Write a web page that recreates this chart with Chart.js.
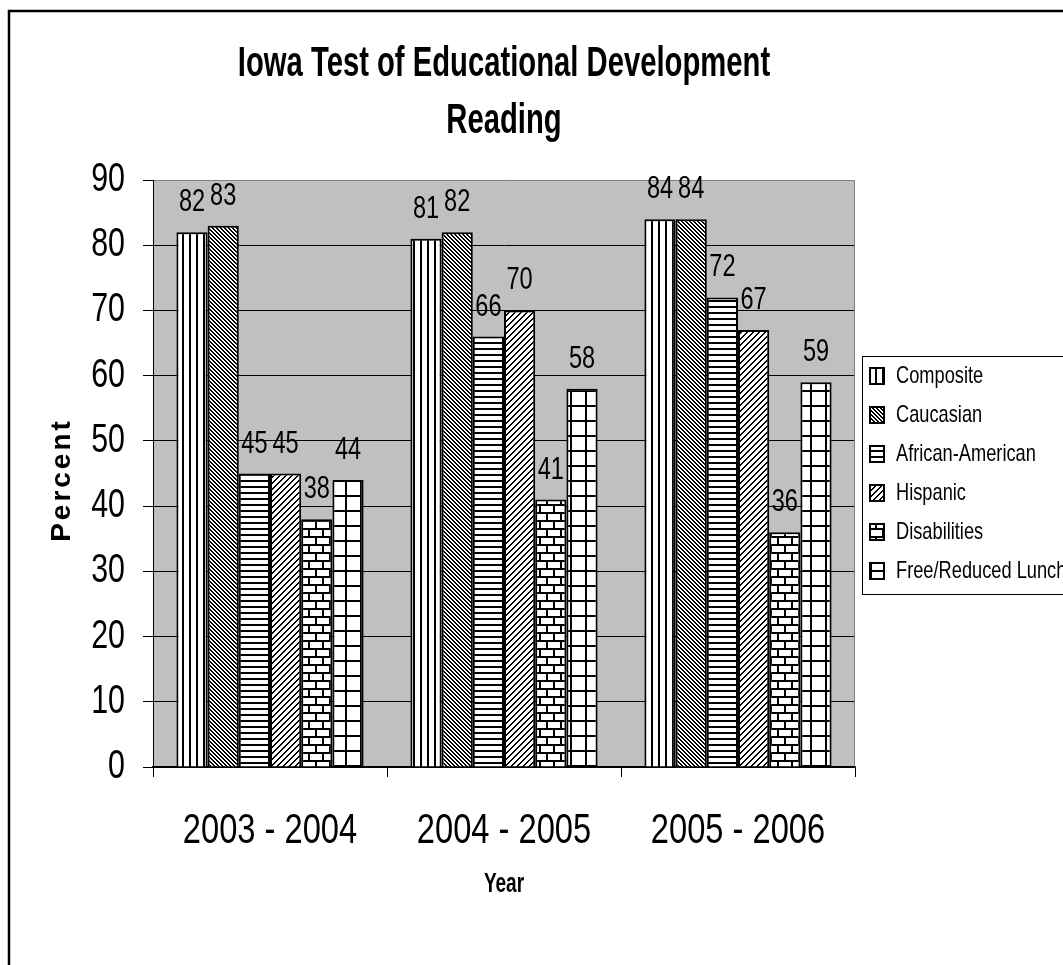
<!DOCTYPE html>
<html>
<head>
<meta charset="utf-8">
<title>Iowa Test of Educational Development - Reading</title>
<script src="https://cdn.jsdelivr.net/npm/chart.js@4.4.1/dist/chart.umd.min.js"></script>
<style>
  html, body { margin: 0; padding: 0; background: #fff; }
  canvas { display: block; }
</style>
</head>
<body>
<canvas id="chart" width="1063" height="965"></canvas>
<script>
// data
const years = ['2003 - 2004', '2004 - 2005', '2005 - 2006'];
const composite = [82, 81, 84];
const caucasian = [83, 82, 84];
const africanAmerican = [45, 66, 72];
const hispanic = [45, 70, 67];
const disabilities = [38, 41, 36];
const freeLunch = [44, 58, 59];
const yMin = 0, yMax = 90, yStep = 10;

const FONT = '"Liberation Sans", Arial, sans-serif';
Chart.defaults.font.family = FONT;
Chart.defaults.color = '#000';

const canvas = document.getElementById('chart');
const ctx = canvas.getContext('2d');

// black-on-white hatch tiles, like the old Excel fill patterns
function tile(w, h, draw) {
  const c = document.createElement('canvas');
  c.width = w; c.height = h;
  const g = c.getContext('2d');
  g.fillStyle = '#fff';
  g.fillRect(0, 0, w, h);
  g.fillStyle = '#000';
  draw(g, w, h);
  return ctx.createPattern(c, 'repeat');
}

const patVertical = tile(7, 1, g => g.fillRect(0, 0, 2, 1));
const patDiagDown = tile(4, 4, (g, n) => {
  for (let i = 0; i < n; i++) { g.fillRect(i, i, 1, 1); g.fillRect((i + 1) % n, i, 1, 1); }
});
const patHorizontal = tile(1, 6, g => g.fillRect(0, 0, 1, 2));
const patDiagUp = tile(6, 6, (g, n) => {
  for (let i = 0; i < n; i++) { g.fillRect(n - 1 - i, i, 1, 1); g.fillRect((2 * n - 2 - i) % n, i, 1, 1); }
});
const patBrick = tile(14, 16, g => {
  g.fillRect(0, 0, 14, 2);
  g.fillRect(0, 8, 14, 2);
  g.fillRect(0, 0, 2, 8);
  g.fillRect(7, 8, 2, 8);
});
const patGrid = tile(15, 15, g => {
  g.fillRect(0, 0, 15, 2);
  g.fillRect(0, 0, 2, 15);
});

// the picture's lettering is horizontally condensed
const narrowText = {
  id: 'narrowText',
  beforeInit(chart) {
    const c = chart.ctx;
    const fill = c.fillText;
    c.plainFillText = fill;
    c.fillText = function (text, x, y, maxWidth) {
      const squeeze = /bold/.test(this.font) ? 0.68 : 0.76;
      let w = this.measureText(text).width * squeeze;
      if (maxWidth !== undefined) w = Math.min(w, maxWidth);
      fill.call(this, text, x, y, w);
    };
  }
};

const decorations = {
  id: 'decorations',
  beforeDraw(chart) {
    const { ctx: c, chartArea: a } = chart;
    c.save();
    c.fillStyle = '#fff';
    c.fillRect(0, 0, chart.width, chart.height);
    c.fillStyle = '#c0c0c0';
    c.fillRect(a.left, a.top, a.right - a.left, a.bottom - a.top);
    c.restore();
  },
  beforeDatasetsDraw(chart) {
    const { ctx: c, chartArea: a } = chart;
    c.save();
    c.strokeStyle = '#808080';
    c.lineWidth = 1;
    c.beginPath();
    c.moveTo(a.right - 0.5, a.top);
    c.lineTo(a.right - 0.5, a.bottom);
    c.stroke();
    c.restore();
  },
  afterDatasetsDraw(chart) {
    const c = chart.ctx;
    c.save();
    c.font = '31px ' + FONT;
    c.fillStyle = '#000';
    c.textAlign = 'center';
    c.textBaseline = 'alphabetic';
    chart.data.datasets.forEach((ds, i) => {
      chart.getDatasetMeta(i).data.forEach((bar, j) => {
        c.fillText(String(ds.data[j]), bar.x, bar.y - 21);
      });
    });
    c.restore();
  },
  afterDraw(chart) {
    const c = chart.ctx;
    c.save();
    // legend frame
    const boxes = chart.legend.legendHitBoxes;
    const last = boxes[boxes.length - 1];
    const top = boxes[0].top - 8;
    c.strokeStyle = '#000';
    c.lineWidth = 1;
    c.strokeRect(chart.legend.left + 7.5, top + 0.5, 400, last.top + last.height + 11 - top);
    // outer frame
    c.lineWidth = 2.5;
    c.strokeRect(9, 11, 1100, 1000);
    // y axis title, spaced out
    c.translate(62, 480);
    c.rotate(-Math.PI / 2);
    c.font = 'bold 28px ' + FONT;
    c.letterSpacing = '3px';
    c.textAlign = 'center';
    c.textBaseline = 'middle';
    c.plainFillText.call(c, 'Percent', 0, 0);
    c.restore();
  }
};

function series(label, data, pattern) {
  return {
    label, data,
    backgroundColor: pattern,
    borderColor: '#000',
    borderWidth: 2,
    categoryPercentage: 0.8,
    barPercentage: 1.0
  };
}

new Chart(canvas, {
  type: 'bar',
  data: {
    labels: years,
    datasets: [
      series('Composite', composite, patVertical),
      series('Caucasian', caucasian, patDiagDown),
      series('African-American', africanAmerican, patHorizontal),
      series('Hispanic', hispanic, patDiagUp),
      series('Disabilities', disabilities, patBrick),
      series('Free/Reduced Lunch', freeLunch, patGrid)
    ]
  },
  options: {
    responsive: false,
    animation: false,
    events: [],
    layout: { padding: 0 },
    scales: {
      x: {
        ticks: { padding: 28, color: '#000', font: { size: 43 }, maxRotation: 0, autoSkip: false },
        grid: { drawOnChartArea: false, tickLength: 10, color: '#000', offset: true },
        border: { color: '#000', width: 1.5 },
        title: {
          display: true, text: 'Year', color: '#000',
          font: { size: 28, weight: 'bold' },
          padding: { top: 0, bottom: 64 }
        },
        afterFit(scale) { scale.height = 198; }
      },
      y: {
        min: yMin, max: yMax,
        ticks: { stepSize: yStep, padding: 18, color: '#000', font: { size: 40 } },
        grid: {
          color: c => (c.tick && c.tick.value === yMax ? '#808080' : '#000'),
          tickColor: '#000',
          tickLength: 10,
          lineWidth: 1
        },
        border: { color: '#000', width: 1 },
        afterFit(scale) { scale.width = 153; }
      }
    },
    plugins: {
      title: {
        display: true,
        text: ['Iowa Test of Educational Development', 'Reading'],
        fullSize: false,
        color: '#000',
        font: { size: 43, weight: 'bold', lineHeight: 57 / 43 },
        padding: { top: 36, bottom: 30 }
      },
      legend: {
        position: 'right',
        fullSize: false,
        maxWidth: 208,
        labels: { boxWidth: 14, boxHeight: 16, padding: 15, color: '#000', font: { size: 24 } }
      },
      tooltip: { enabled: false }
    }
  },
  plugins: [narrowText, decorations]
});
</script>
</body>
</html>
